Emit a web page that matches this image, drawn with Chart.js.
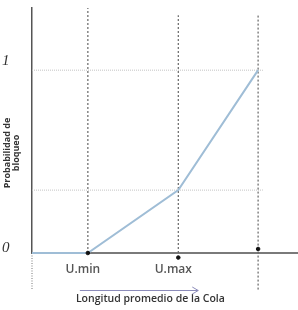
<!DOCTYPE html>
<html>
<head>
<meta charset="utf-8">
<script src="https://cdn.jsdelivr.net/npm/chart.js@4"></script>
<style>
  html, body { margin: 0; padding: 0; background: #fff; }
  #wrap { width: 298px; height: 310px; }
</style>
</head>
<body>
<div id="wrap"><canvas id="chart"></canvas></div>
<script>
// curve: blocking probability vs queue length
const curveX = [0, 2.1, 5.5, 8.5];
const curveY = [0, 0, 0.344, 1];

// small black marks on the axis
const markX = [2.1, 5.5, 8.5];
const markY = [0, -0.025, 0.022];

// vertical dotted guides
const guideX = [2.1, 5.5, 8.5];
const guideTop = [1.34, 1.30, 1.31];
const guideBottom = [0, 0, -0.2];

// horizontal dotted guides
const levelY = [1, 0.344];
const levelEnd = 8.68;

const xTickVals = [2.1, 5.5];
const xTickLabels = ['U.min', 'U.max'];
const yTickVals = [0, 1];
const yTickLabels = ['0', '1'];

const xTitle = 'Longitud promedio de la Cola';
const yTitle = ['Probabilidad de', 'bloqueo'];

const pts = (xs, ys) => xs.map((x, i) => ({x: x, y: ys[i]}));

const datasets = [];
guideX.forEach((gx, i) => {
  datasets.push({
    data: [{x: gx, y: guideBottom[i]}, {x: gx, y: guideTop[i]}],
    borderColor: '#666', borderWidth: 1.2, borderDash: [2, 2],
    showLine: true, pointRadius: 0, clip: false, order: 5
  });
});
levelY.forEach(ly => {
  datasets.push({
    data: [{x: 0, y: ly}, {x: levelEnd, y: ly}],
    borderColor: '#c4c4c4', borderWidth: 1, borderDash: [1, 1],
    showLine: true, pointRadius: 0, clip: false, order: 5
  });
});
// left axis dotted continuation below zero
datasets.push({
  data: [{x: 0, y: 0}, {x: 0, y: -0.2}],
  borderColor: '#777', borderWidth: 1, borderDash: [1, 1.5],
  showLine: true, pointRadius: 0, clip: false, order: 5
});
datasets.push({
  data: pts(curveX, curveY),
  borderColor: '#9fbdd6', borderWidth: 2,
  showLine: true, pointRadius: 0, clip: false, order: 2
});
datasets.push({
  data: pts(markX, markY),
  backgroundColor: '#111', borderColor: '#111',
  pointRadius: 1.8, showLine: false, clip: false, order: 1
});

const extras = {
  id: 'extras',
  afterDraw(chart) {
    const ctx = chart.ctx;
    const xs = chart.scales.x;
    const area = chart.chartArea;
    ctx.save();
    // y title
    ctx.fillStyle = '#333';
    ctx.font = 'bold 9px "Open Sans"';
    ctx.textAlign = 'center';
    ctx.textBaseline = 'middle';
    const cy = area.bottom - 100;
    yTitle.forEach((t, i) => {
      ctx.save();
      ctx.translate(7.5 + i * 9, cy);
      ctx.rotate(-Math.PI / 2);
      ctx.fillText(t, 0, 0);
      ctx.restore();
    });
    // x title
    ctx.font = '600 10.5px "Open Sans"';
    ctx.fillText(xTitle, xs.getPixelForValue(4.45), area.bottom + 46);
    // arrow above x title
    const ay = area.bottom + 37.5;
    const x0 = xs.getPixelForValue(1.8);
    const x1 = xs.getPixelForValue(6.25);
    ctx.strokeStyle = '#8c8cba';
    ctx.lineWidth = 1;
    ctx.beginPath();
    ctx.moveTo(x0, ay);
    ctx.lineTo(x1, ay);
    ctx.moveTo(x1 - 6, ay - 3.5);
    ctx.lineTo(x1, ay);
    ctx.lineTo(x1 - 6, ay + 3.5);
    ctx.stroke();
    ctx.restore();
  }
};

new Chart(document.getElementById('chart'), {
  type: 'scatter',
  data: { datasets: datasets },
  options: {
    responsive: true,
    maintainAspectRatio: false,
    animation: false,
    layout: { autoPadding: false, padding: { top: 8, left: 2, right: 0, bottom: 5 } },
    plugins: { legend: { display: false }, tooltip: { enabled: false } },
    scales: {
      x: {
        type: 'linear', min: 0, max: 10,
        afterBuildTicks: s => { s.ticks = xTickVals.map(v => ({value: v})); },
        afterFit: s => { s.height = 52; s.paddingLeft = 0; s.paddingRight = 0; },
        grid: { display: false, drawTicks: false },
        border: { display: true, color: '#7a7a7a', width: 2 },
        ticks: {
          padding: 9, labelOffset: -5, autoSkip: false, maxRotation: 0,
          color: '#555',
          font: { family: 'Open Sans', size: 12, weight: '600' },
          callback: (v, i) => xTickLabels[i]
        }
      },
      y: {
        type: 'linear', min: 0, max: 1.34,
        afterBuildTicks: s => { s.ticks = yTickVals.map(v => ({value: v})); },
        afterFit: s => { s.width = 30; s.paddingTop = 0; s.paddingBottom = 0; },
        grid: { display: false, drawTicks: false },
        border: { display: true, color: '#555', width: 1.5 },
        ticks: {
          crossAlign: 'far', padding: 0, color: '#333',
          font: ctx => ({
            family: 'Liberation Serif', size: 15, style: 'italic',
            lineHeight: ctx.tick && ctx.tick.value === 1 ? 1.2 : 0.67
          }),
          callback: (v, i) => [yTickLabels[i], '']
        }
      }
    }
  },
  plugins: [extras]
});
</script>
</body>
</html>
